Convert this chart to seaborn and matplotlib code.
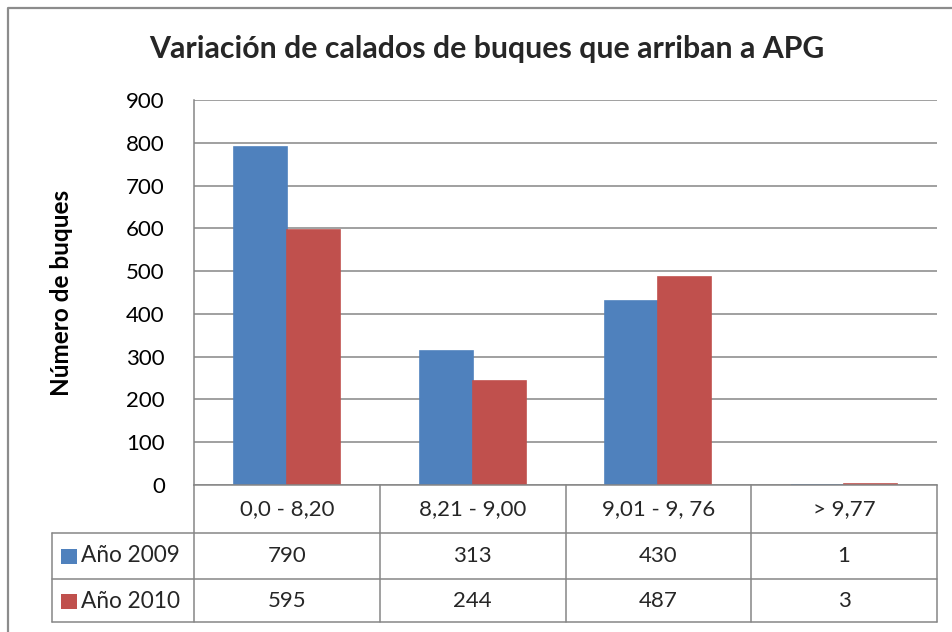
import matplotlib
matplotlib.use("Agg")
import matplotlib.pyplot as plt
from matplotlib.lines import Line2D
from matplotlib.patches import Rectangle
import seaborn as sns
import pandas as pd

categories = ["0,0 - 8,20", "8,21 - 9,00", "9,01 - 9, 76", "> 9,77"]
series_names = ["Año 2009", "Año 2010"]
values_2009 = [790, 313, 430, 1]
values_2010 = [595, 244, 487, 3]
yticks = [0, 100, 200, 300, 400, 500, 600, 700, 800, 900]
title = "Variación de calados de buques que arriban a APG"
ylabel = "Número de buques"

colors = ["#4F81BD", "#C0504D"]
grid_c = "#868686"

df = pd.DataFrame({
    "cat": categories * 2,
    "val": values_2009 + values_2010,
    "serie": [series_names[0]] * 4 + [series_names[1]] * 4,
})

sns.set_theme(style="white")
plt.rcParams["font.family"] = ["Lato", "DejaVu Sans"]

W, H = 953, 632
fig = plt.figure(figsize=(W / 100, H / 100), dpi=100)
L, R, T, B = 194, 937, 100, 485
ax = fig.add_axes([L / W, 1 - B / H, (R - L) / W, (B - T) / H])

sns.barplot(data=df, x="cat", y="val", hue="serie", palette=colors,
            saturation=1, width=0.57, ax=ax, legend=False, linewidth=1.2)
for p in ax.patches:
    p.set_edgecolor(p.get_facecolor())

ax.set_ylim(0, 900)
ax.set_xlim(-0.5, len(categories) - 0.5)
ax.set_yticks(yticks)
ax.set_yticklabels([str(v) for v in yticks], fontsize=16, color="black")
ax.tick_params(axis="y", length=0, pad=21)
ax.set_xticks([])
ax.set_xlabel("")
ax.set_ylabel(ylabel, fontsize=17.5, fontweight="bold", color="black")
ax.yaxis.set_label_coords(-0.163, 0.5)
ax.grid(axis="y", color=grid_c, linewidth=1.1)
ax.set_axisbelow(True)
for s in ["top", "right"]:
    ax.spines[s].set_visible(False)
for s in ["left", "bottom"]:
    ax.spines[s].set_color(grid_c)
    ax.spines[s].set_linewidth(1.1)
    ax.spines[s].set_zorder(3)

# data table under the axis
tr = ax.get_xaxis_transform()
pxh = B - T
def fy(py):
    return -(py - B) / pxh
def fx(px):
    return (px - L) / ((R - L) / len(categories)) - 0.5

r1, r2, r3 = fy(533), fy(579), fy(622)
xh = fx(52)
lk = dict(color=grid_c, linewidth=1.1, transform=tr, clip_on=False)
for yy in (r1, r2, r3):
    ax.add_line(Line2D([xh, len(categories) - 0.5], [yy, yy], **lk))
for i in range(len(categories) + 1):
    ax.add_line(Line2D([i - 0.5, i - 0.5], [0, r3], **lk))
ax.add_line(Line2D([xh, xh], [r1, r3], **lk))

ycat = fy(509)
for i, c in enumerate(categories):
    ax.text(i, ycat, c, transform=tr, ha="center", va="center", fontsize=16)
rows_y = [fy(556), fy(601)]
for vals, yy in zip([values_2009, values_2010], rows_y):
    for i, v in enumerate(vals):
        ax.text(i, yy, str(v), transform=tr, ha="center", va="center", fontsize=16)
for name, col, yy in zip(series_names, colors, rows_y):
    x0, x1 = fx(61), fx(77)
    h = 15 / pxh
    ax.add_patch(Rectangle((x0, yy - h / 2), x1 - x0, h, facecolor=col,
                           edgecolor="none", transform=tr, clip_on=False))
    ax.text(fx(81), yy, name, transform=tr, ha="left", va="center", fontsize=16.3)

fig.text(487 / W, 1 - 58 / H, title, ha="center", va="baseline",
         fontsize=21.8, fontweight="bold")

# outer chart frame (only left and top visible)
fx0, fy0 = 8 / W, 1 - 8 / H
fig.add_artist(Line2D([fx0, fx0, 1.01], [-0.01, fy0, fy0], color="#8c8c8c",
                      linewidth=1.6, transform=fig.transFigure))

fig.savefig("out.png", dpi=100)
